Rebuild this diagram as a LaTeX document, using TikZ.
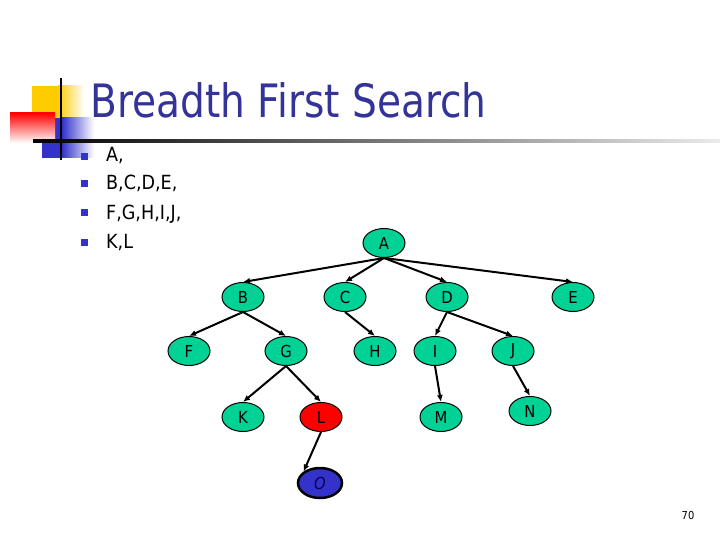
\documentclass[tikz,border=0pt]{standalone}
\usepackage{fontspec}
\setmainfont[FakeStretch=0.9]{DejaVu Sans}
\newfontfamily\titlefont[FakeStretch=0.85]{DejaVu Sans}
\usetikzlibrary{arrows.meta,shapes.geometric}
\definecolor{titleblue}{RGB}{51,51,153}
\definecolor{bulletblue}{RGB}{51,51,204}
\definecolor{nodegreen}{RGB}{0,210,150}
\definecolor{sqyellow}{RGB}{255,204,0}
\definecolor{nodeblue}{RGB}{51,51,204}

\begin{document}
\begin{tikzpicture}[x=1pt,y=-1pt,
    tnode/.style={ellipse, draw=black, line width=1pt, fill=nodegreen, minimum width=42pt, minimum height=29pt, inner sep=0pt, font=\fontsize{16.5}{16.5}\selectfont},
    bullet/.style={fill=bulletblue, minimum size=7pt, inner sep=0pt},
    item/.style={anchor=base west, inner sep=0pt, font=\fontsize{19.5}{19.5}\selectfont},
    arr/.style={-{Latex[length=7pt,width=6pt]}, line width=2pt}
]
\useasboundingbox (0,0) rectangle (720,540);

% corner decoration
\fill[sqyellow] (32,86) rectangle (58,118);
\shade[left color=sqyellow, right color=white] (58,86) rectangle (84,118);
\fill[bulletblue] (42,118) rectangle (62,158);
\shade[left color=bulletblue, right color=white] (62,118) rectangle (94,158);
\shade[shading angle=60, top color=red, bottom color=white] (10,113) rectangle (55,143);
\draw[line width=2pt] (61,78) -- (61,160);
\shade[left color=black, right color=black!8] (33,140) rectangle (720,142.5);

% title and list
\node[anchor=base west, inner sep=0pt, text=titleblue, font=\titlefont\fontsize{46}{46}\selectfont] (title) at (90,118) {Breadth First Search};
\node[bullet] (b1) at (84,157) {};
\node[bullet] (b2) at (84,184) {};
\node[bullet] (b3) at (84,213) {};
\node[bullet] (b4) at (84,242) {};
\node[item] (l1) at (106,162) {A,};
\node[item] (l2) at (106,190) {B,C,D,E,};
\node[item] (l3) at (106,219) {F,G,H,I,J,};
\node[item] (l4) at (106,248) {K,L};

% tree
\node[tnode] (A) at (384,243) {A};
\node[tnode] (B) at (243,297) {B};
\node[tnode] (C) at (345,297) {C};
\node[tnode] (D) at (447,297) {D};
\node[tnode] (E) at (573,297) {E};
\node[tnode] (F) at (189,351) {F};
\node[tnode] (G) at (286,351) {G};
\node[tnode] (H) at (375,351) {H};
\node[tnode] (I) at (435,351) {I};
\node[tnode] (J) at (513,351) {J};
\node[tnode] (K) at (243,417) {K};
\node[tnode, fill=red] (L) at (321,417) {L};
\node[tnode] (M) at (441,417) {M};
\node[tnode] (N) at (530,411) {N};
\node[tnode, fill=nodeblue, line width=2.5pt, minimum width=44pt, minimum height=30pt, text={rgb,255:red,0;green,0;blue,90}, font=\fontsize{16.5}{16.5}\selectfont\itshape] (O) at (320,483) {O};

\draw[arr] (A.south) -- (B.north);
\draw[arr] (A.south) -- (C.north);
\draw[arr] (A.south) -- (D.north);
\draw[arr] (A.south) -- (E.north);
\draw[arr] (B.south) -- (F.north);
\draw[arr] (B.south) -- (G.north);
\draw[arr] (C.south) -- (H.north);
\draw[arr] (D.south) -- (I.north);
\draw[arr] (D.south) -- (J.north);
\draw[arr] (G.south) -- (K.north);
\draw[arr] (G.south) -- (L.north);
\draw[arr] (I.south) -- (M.north);
\draw[arr] (J.south) -- (N.north);
\draw[arr] (L.south) -- (O.north west);

% page number
\node[font=\fontsize{11}{11}\selectfont] (page) at (688,515) {70};
\end{tikzpicture}
\end{document}
